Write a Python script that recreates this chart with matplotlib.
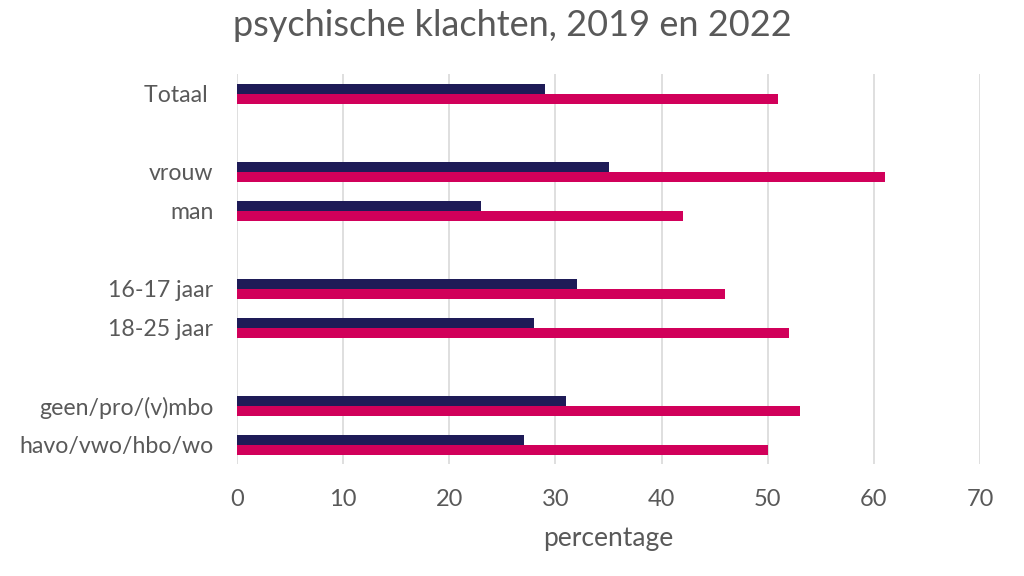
import matplotlib
matplotlib.use("Agg")
import matplotlib.pyplot as plt
import numpy as np

# Data
categories = ["Totaal ", "vrouw", "man", "16-17 jaar", "18-25 jaar",
              "geen/pro/(v)mbo", "havo/vwo/hbo/wo"]
group_of = [0, 1, 1, 2, 2, 3, 3]   # groups separated by an empty row
values_2019 = [29, 35, 23, 32, 28, 31, 27]
values_2022 = [51, 61, 42, 46, 52, 53, 50]
x_ticks = [0, 10, 20, 30, 40, 50, 60, 70]

plt.rcParams['font.family'] = ['Lato', 'DejaVu Sans']
text_color = "#595959"
c2019 = "#1E1B57"
c2022 = "#D1005A"

fig = plt.figure(figsize=(10.24, 5.76), dpi=100)
ax = fig.add_axes([0.2314, 0.1936, 0.7257, 0.6771])

# slot positions: each group adds one empty slot
pos = np.array([i + g for i, g in enumerate(group_of)], dtype=float)
h = 0.26
ax.barh(pos - h / 2, values_2019, height=h, color=c2019, zorder=3)
ax.barh(pos + h / 2, values_2022, height=h, color=c2022, zorder=3)

ax.set_ylim(pos.max() + 0.5, -0.5)
ax.set_xlim(0, 70)
ax.set_yticks(pos)
ax.set_yticklabels(categories)
ax.set_xticks(x_ticks)
ax.grid(axis='x', color="#D9D9D9", linewidth=1.2, zorder=0)
for s in ax.spines.values():
    s.set_visible(False)
ax.tick_params(axis='x', length=0, colors=text_color, labelsize=17, pad=18)
ax.tick_params(axis='y', length=0, colors=text_color, labelsize=16.7, pad=17)
ax.set_xlabel("percentage", color=text_color, fontsize=19, labelpad=11)

fig.text(0.5, 0.985, "psychische klachten, 2019 en 2022", ha='center', va='top',
         color=text_color, fontsize=26)

fig.savefig("out.png", dpi=100)
